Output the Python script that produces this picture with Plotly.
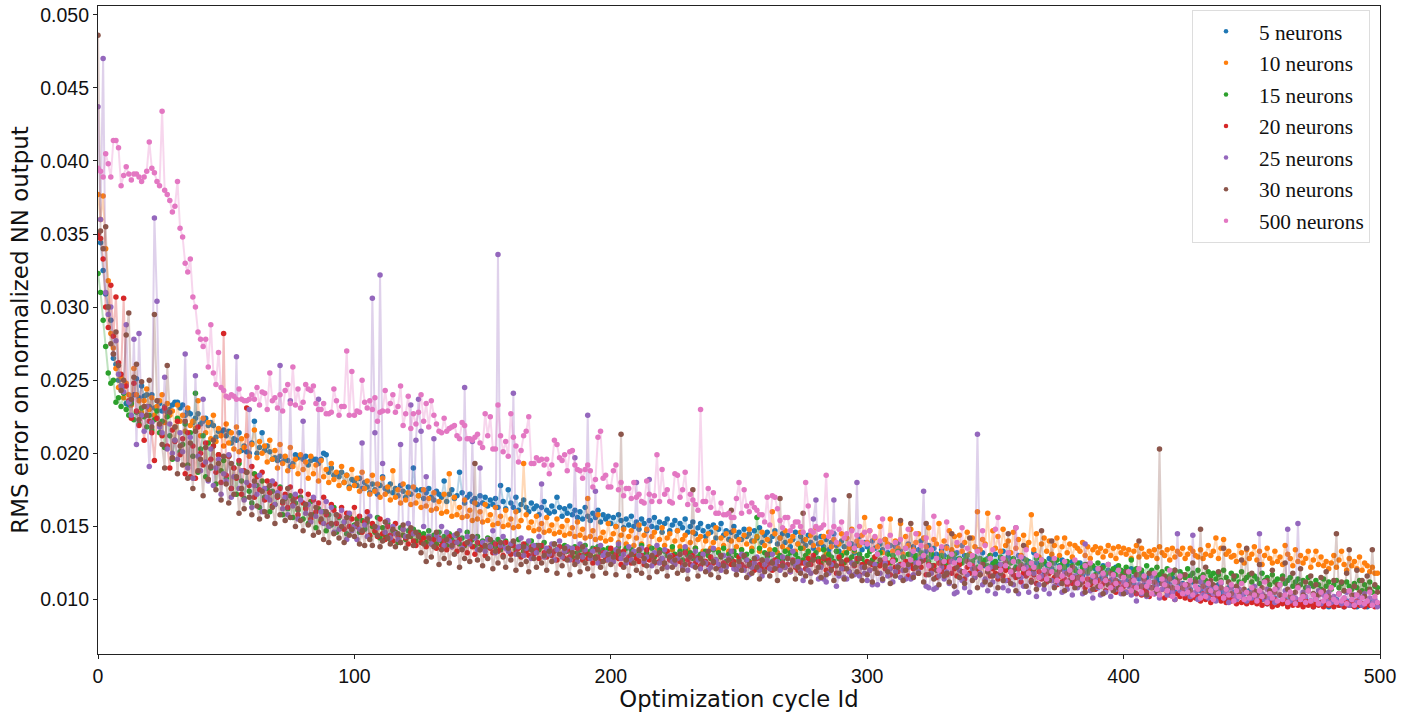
import plotly.graph_objects as go

# RMS values, in units of 1e-4; 25 values per row
n5 = [350,344,325,309,300,291,265,261,250,246,246,234,233,236,240,251,238,246,239,240,232,240,231,230,234,
229,232,228,230,233,235,235,231,233,226,229,227,221,224,227,220,222,224,219,221,219,211,215,214,216,
212,215,207,210,209,214,202,205,201,200,207,222,200,204,214,202,205,201,196,197,195,198,194,196,195,
191,193,199,197,198,196,198,192,195,196,196,193,196,200,199,187,190,185,186,184,187,180,185,177,182,
181,178,183,176,180,177,173,179,175,172,178,184,176,174,179,173,176,171,178,174,170,177,172,190,175,
171,175,169,173,176,170,168,174,172,170,181,167,172,175,169,171,187,173,166,170,172,167,169,165,171,
166,170,164,168,165,169,163,178,167,162,175,166,163,170,161,165,168,163,160,166,162,164,158,163,167,
161,159,164,160,170,163,157,162,159,164,158,161,156,160,155,163,157,154,159,156,161,153,158,155,157,
152,156,150,158,154,149,155,151,157,150,153,148,155,152,147,154,150,156,149,153,146,152,155,147,151,
154,147,152,149,155,146,150,153,145,149,152,147,143,150,146,151,142,148,152,144,147,141,146,150,143,
146,141,148,143,145,140,147,142,149,139,144,146,140,143,147,138,142,145,139,144,136,141,146,138,143,
140,137,144,139,135,142,138,143,136,141,134,139,145,137,133,140,136,142,135,138,132,137,143,134,139,
136,133,140,135,131,138,134,141,132,137,130,136,139,133,129,135,138,131,136,128,134,140,130,133,137,
129,135,131,127,134,130,136,126,133,128,132,125,137,130,127,131,124,129,134,126,132,123,128,130,125,
131,124,128,133,122,129,126,127,121,130,124,128,123,126,120,132,125,122,127,119,124,128,121,125,118,
123,127,120,124,117,126,121,119,125,116,122,118,124,115,121,119,114,123,117,120,113,118,122,112,116,
119,113,117,121,111,116,114,118,110,115,112,117,109,114,111,116,108,113,110,115,107,112,109,111,105,
110,107,112,104,108,106,111,103,109,105,107,102,110,104,106,101,108,103,105,100,107,102,104,99,106,
101,103,98,105,100,102,97,104,99,101,97,103,98,100,96,102,98,100,97,99,96,101,97,99,95,
100,97,98,96,99,95,98,97,100,96,98,95,99,97,96,98,95,100,96,97,95,99,96,98,96]

n10 = [377,360,376,340,318,282,272,258,245,252,238,248,240,233,258,240,236,228,236,244,230,238,226,232,236,
240,221,234,226,229,218,233,222,226,215,231,219,222,217,236,212,224,214,221,210,226,208,217,212,205,
220,207,214,203,218,201,210,204,212,198,206,216,197,208,200,205,194,209,196,202,190,206,193,198,188,
204,191,196,186,199,189,194,183,198,186,192,181,195,184,189,180,193,182,187,178,191,180,185,176,189,
178,183,174,187,176,181,172,185,174,179,170,183,172,177,168,188,170,175,166,179,168,173,165,177,166,
171,163,175,164,169,161,173,162,167,159,172,160,186,157,170,158,163,156,168,157,161,154,166,155,160,
153,165,154,158,151,163,152,157,150,161,151,155,149,160,150,154,193,158,149,153,147,157,148,152,146,
156,147,151,145,155,146,150,144,154,145,149,143,153,144,148,142,169,143,147,141,158,142,146,140,152,
141,145,150,139,144,148,138,143,147,137,142,151,138,144,148,136,143,146,135,141,149,137,142,145,134,
140,147,136,141,144,134,139,146,135,141,143,133,140,145,135,139,149,134,142,137,145,133,140,147,136,
141,134,144,138,148,135,140,143,133,146,137,141,134,160,145,132,142,136,147,134,140,143,133,138,146,
135,141,132,144,137,149,134,139,143,131,146,136,141,133,138,145,132,142,135,148,133,140,137,144,156,
139,147,134,142,136,150,132,141,138,155,133,140,135,152,131,143,137,148,134,139,145,130,142,136,149,
133,141,138,152,132,140,135,147,134,143,137,144,133,139,146,131,142,136,160,134,141,138,159,130,147,
135,143,133,148,137,140,132,146,135,141,130,144,136,139,158,134,145,129,138,142,133,140,131,137,142,
130,136,142,132,138,129,137,135,133,139,130,136,128,134,136,132,135,129,133,137,130,135,128,136,132,
135,131,134,128,133,137,129,135,131,129,133,130,134,128,136,132,130,134,127,135,129,133,131,135,128,
131,135,133,130,129,134,128,131,137,130,133,142,128,135,141,131,133,129,130,126,137,132,125,134,128,
131,136,127,133,124,130,135,128,125,133,126,129,124,137,131,128,123,134,126,130,125,128,133,122,127,
133,124,129,123,126,121,125,130,122,127,133,124,120,128,123,126,121,129,120,125,123,119,122,118,118]

n15 = [323,310,291,273,255,248,250,235,238,232,241,230,226,234,223,228,220,231,225,218,226,216,223,229,214,
222,204,225,212,196,209,224,201,206,220,192,214,198,241,187,203,212,184,207,190,205,179,199,188,195,
183,198,176,190,172,193,181,169,187,174,166,186,178,163,181,170,176,160,174,165,171,177,158,169,162,
171,156,166,161,170,155,163,152,167,158,149,162,154,160,147,158,151,163,146,156,149,153,145,158,148,
151,155,146,154,148,153,143,150,146,156,142,149,144,152,141,147,146,139,149,144,141,147,143,148,140,
146,142,145,139,147,141,144,138,146,140,143,137,145,141,139,144,138,142,137,146,139,141,136,143,138,
140,135,142,137,139,136,141,134,138,140,135,137,139,134,141,136,133,138,135,140,132,137,134,136,139,
133,135,131,138,134,136,130,137,133,135,129,136,132,134,130,137,131,133,135,129,136,132,134,128,135,
131,133,129,136,130,132,135,128,134,131,129,133,137,130,132,128,135,129,131,134,127,133,130,128,136,
131,129,133,127,134,130,132,128,135,129,131,126,133,130,128,134,127,132,129,135,126,131,128,133,130,
127,134,129,131,126,133,128,156,135,127,132,129,131,126,134,128,130,127,133,129,132,125,131,128,135,
127,130,133,126,129,132,128,125,134,127,131,129,126,133,128,130,125,132,127,129,134,126,131,128,125,
130,133,127,129,124,132,126,128,131,125,130,127,133,124,129,126,131,125,128,130,124,132,127,129,126,
131,123,128,125,130,127,124,129,126,131,123,128,125,127,130,124,126,129,122,128,125,127,123,130,124,
126,122,129,124,127,121,125,128,122,126,124,120,127,123,125,121,128,122,124,126,120,123,125,119,127,
121,124,122,126,119,123,120,125,118,122,124,119,121,123,117,125,120,122,118,124,119,121,117,123,120,
118,122,116,127,119,121,117,120,115,123,118,120,116,122,117,119,115,121,116,118,120,114,119,117,115,
121,116,118,114,120,115,117,113,119,116,118,114,117,113,120,115,112,118,114,116,112,119,113,115,117,
112,116,114,111,118,113,115,110,117,112,114,110,116,111,113,115,109,112,114,110,113,108,115,111,109,
113,110,107,114,109,112,107,110,113,108,111,106,112,109,107,111,108,113,106,110,107,112,105,109,108]

n20 = [350,347,333,300,286,315,280,307,262,254,306,246,236,224,248,229,219,226,209,232,222,214,195,224,219,
212,231,205,190,216,208,222,199,210,186,214,184,205,183,218,200,192,207,182,196,205,187,199,180,282,
185,198,176,190,183,195,172,188,231,178,191,170,184,175,187,168,181,173,164,179,170,176,166,172,163,
177,165,170,158,174,166,162,172,155,168,160,166,153,170,158,151,165,161,152,157,163,148,159,150,155,
163,150,157,146,153,160,144,152,147,143,155,145,141,150,144,140,152,143,139,148,142,138,146,140,137,
144,139,142,136,143,138,141,135,142,137,140,134,143,136,139,133,141,135,138,132,140,136,131,139,134,
137,130,141,135,132,138,133,136,130,139,134,131,137,132,135,129,138,133,130,136,131,134,128,137,132,
129,135,130,133,127,136,131,128,134,129,132,126,135,130,127,133,128,131,125,134,129,126,132,127,130,
135,126,131,128,124,133,127,129,125,132,128,126,130,124,134,127,129,125,131,126,128,124,133,127,130,
125,129,126,123,132,127,124,130,125,128,123,131,126,124,129,125,127,122,130,125,123,128,124,126,121,
129,124,122,127,123,125,120,128,124,121,126,122,125,120,127,123,121,125,122,124,119,127,122,120,125,
125,121,128,124,130,119,126,123,128,120,127,122,125,118,129,124,121,127,119,125,123,128,117,124,122,
126,120,124,129,118,123,126,121,125,117,127,122,119,124,120,126,116,123,121,125,118,122,127,117,124,
120,123,115,125,119,122,117,126,118,121,116,124,119,114,122,118,123,115,120,117,124,113,119,116,121,
118,114,122,116,120,113,119,117,115,121,112,118,116,120,113,117,111,119,114,116,112,118,113,115,110,
116,112,114,110,117,111,113,109,115,112,108,114,110,112,107,113,109,111,106,112,108,110,105,111,107,
109,105,110,106,108,104,109,103,107,105,102,108,104,106,103,107,101,105,103,106,100,104,102,105,101,
103,100,104,101,102,99,104,100,102,98,103,100,101,99,102,98,101,99,100,97,102,98,100,97,101,
98,100,97,99,96,101,97,98,95,100,96,98,97,99,95,98,96,100,96,97,95,99,96,98,95,
97,96,98,95,97,96,99,95,98,96,97,95,98,96,97,95,99,96,97,95,98,96,97,95,96]

n25 = [437,360,470,310,295,300,268,277,254,246,242,288,235,226,278,206,282,226,215,232,191,221,361,304,218,
214,252,203,220,200,209,196,214,201,268,190,211,183,253,198,188,237,194,181,203,178,190,196,172,186,
181,199,170,184,266,176,188,168,180,230,163,178,172,185,160,176,170,168,181,165,173,260,162,170,158,
236,164,172,155,168,222,159,165,153,170,157,237,160,152,167,150,163,146,158,148,161,153,141,159,147,
150,141,148,207,151,143,157,306,214,149,322,193,146,154,142,150,145,141,206,148,143,152,233,145,209,
237,215,150,184,143,138,210,144,141,150,137,146,140,136,144,139,147,135,245,143,138,208,142,134,190,
139,133,141,136,147,132,336,137,143,135,133,138,241,131,136,142,130,135,140,128,137,132,143,179,129,
135,131,138,127,134,140,129,133,136,127,135,197,126,138,129,134,226,128,133,174,125,137,130,132,127,
129,126,134,138,128,131,125,136,127,133,180,130,135,126,129,182,123,132,137,125,128,134,122,130,126,
124,128,131,122,136,120,129,123,133,127,121,131,125,120,122,135,127,124,120,130,122,128,133,121,120,
123,131,120,127,117,122,125,129,120,116,124,127,121,131,123,126,120,129,122,128,119,133,123,126,120,
113,125,120,118,155,168,114,122,114,112,118,124,168,109,116,121,115,114,119,125,117,180,116,122,118,
113,120,110,124,110,118,113,125,116,121,112,119,123,115,120,114,122,114,117,125,119,128,174,109,108,
118,107,108,116,122,114,119,111,126,104,105,120,113,108,117,105,121,115,213,118,110,114,106,122,112,
104,116,124,108,113,106,119,110,149,104,115,109,122,105,112,118,102,110,116,107,120,104,113,109,117,
111,105,118,107,113,103,116,108,112,104,138,110,106,101,114,108,103,117,105,111,102,115,107,109,104,
112,105,109,103,115,99,110,104,113,102,108,116,104,110,101,107,113,103,109,105,100,145,106,110,104,
108,102,144,105,100,112,103,107,101,109,104,99,106,111,101,105,98,108,103,100,107,102,105,99,104,
101,109,102,145,104,100,107,101,105,98,108,103,100,106,148,99,104,101,152,100,105,102,108,99,104,
101,106,97,103,100,105,98,102,99,104,97,101,105,96,100,103,98,102,96,104,99,101,97,100,95]

n30 = [486,352,340,355,300,275,268,283,260,243,250,281,296,237,252,261,223,249,232,226,250,218,295,236,220,
206,190,260,228,197,218,186,205,192,222,183,207,176,215,188,196,171,204,182,191,209,175,193,168,198,
179,166,193,172,184,159,176,162,187,170,158,181,164,155,174,160,157,178,163,152,171,158,167,154,176,
156,168,150,162,154,147,165,151,158,144,163,146,155,141,160,139,152,145,158,142,150,139,156,144,148,
143,152,138,147,137,155,141,137,150,144,136,140,153,142,138,148,136,145,139,151,135,143,149,137,146,
143,132,138,126,142,129,136,146,124,134,128,141,125,137,131,145,122,134,128,139,126,143,193,127,134,
123,137,128,141,121,133,125,139,129,122,135,127,140,120,131,124,136,126,119,134,128,122,137,125,130,
120,133,126,138,118,131,123,135,127,117,132,124,129,119,136,125,121,130,116,128,134,122,126,118,131,
124,129,117,133,213,122,127,116,131,125,120,134,118,128,123,115,130,126,119,132,121,125,116,129,122,
127,118,131,120,124,114,129,175,122,116,128,125,119,133,117,126,121,115,130,123,119,127,161,124,117,
126,120,130,115,124,118,128,122,114,127,119,131,116,125,121,113,169,123,117,128,120,126,114,122,118,
159,116,124,112,127,119,122,115,129,117,125,120,113,123,118,126,114,121,171,116,124,119,128,113,122,
117,125,112,121,118,127,114,123,119,111,126,116,122,154,113,120,124,152,115,122,118,126,112,152,117,
123,114,120,110,125,116,118,112,145,109,122,115,119,111,126,142,113,121,108,117,124,112,119,110,116,
122,108,118,113,125,145,111,120,106,116,123,137,109,118,112,121,107,115,147,110,119,113,140,108,117,
120,111,106,118,113,122,108,115,110,119,105,124,112,107,116,109,121,104,114,110,118,106,113,108,116,
104,119,110,113,106,117,140,109,114,103,118,108,112,105,203,111,116,109,114,108,120,112,115,108,117,
110,106,125,112,107,148,109,122,106,113,110,105,119,108,135,107,112,104,116,109,105,127,107,135,104,
118,106,103,124,108,102,113,106,120,105,110,103,114,125,107,102,118,105,109,121,103,112,106,116,104,
110,103,115,106,119,102,108,113,145,104,112,106,118,134,103,109,120,105,113,102,116,107,134,110,105]

n500 = [395,393,389,405,398,389,414,414,409,383,390,396,391,387,391,391,389,386,389,393,413,395,392,386,383,
434,380,377,373,365,369,386,354,348,330,324,333,307,300,283,278,273,278,259,288,255,247,269,245,243,
239,238,240,239,237,244,237,236,236,237,240,237,245,233,242,241,230,255,236,238,231,240,229,243,247,
234,259,233,244,231,235,247,244,243,246,234,230,230,234,227,227,228,244,236,226,232,232,270,226,256,
226,229,228,250,235,231,236,230,238,222,228,229,243,229,234,240,228,232,246,219,227,239,217,227,220,
228,240,222,234,218,236,226,220,215,214,224,215,217,218,219,212,210,221,219,210,210,209,211,213,207,
204,227,212,225,203,203,233,212,201,208,198,227,211,205,194,202,212,215,225,193,193,197,195,196,192,
196,186,192,209,206,197,195,199,188,201,202,192,189,188,183,189,192,188,177,182,211,215,183,185,177,
177,188,192,175,180,171,176,176,169,180,170,172,167,166,181,172,167,171,199,167,189,172,175,167,166,
186,185,170,175,187,165,172,168,165,161,230,167,167,176,163,173,159,159,166,158,158,159,156,156,169,
180,159,175,164,160,166,163,161,158,158,153,170,151,171,170,162,154,149,156,156,147,150,153,153,150,
146,180,164,147,146,150,148,149,151,185,143,146,150,139,148,153,142,145,138,147,135,144,150,139,146,
138,147,134,143,131,140,155,128,136,144,126,139,132,141,124,135,148,127,133,145,125,137,130,142,123,
134,157,128,120,136,126,153,122,131,125,139,127,149,119,135,124,130,118,133,122,147,137,121,128,134,
148,156,120,128,123,132,119,126,149,117,129,121,134,118,125,122,130,115,127,120,114,124,119,128,113,
122,116,126,112,120,115,127,111,119,114,123,110,125,116,112,121,109,118,113,124,108,117,111,120,107,
115,110,119,106,113,108,121,105,116,109,112,104,118,107,103,114,110,106,120,102,112,108,116,104,110,
105,113,103,109,107,101,115,102,111,106,100,108,104,112,101,107,103,110,99,106,102,111,100,105,101,
108,103,99,106,102,112,98,104,101,107,99,110,100,103,98,105,101,97,108,100,102,98,106,99,103,
100,97,105,99,102,97,108,100,98,104,99,101,97,106,100,96,103,98,101,97,99,105,96,102,98]

names = ["5 neurons","10 neurons","15 neurons","20 neurons","25 neurons","30 neurons","500 neurons"]
colors = ["#1f77b4","#ff7f0e","#2ca02c","#d62728","#9467bd","#8c564b","#e377c2"]
series = [n5,n10,n15,n20,n25,n30,n500]
SCALE = 1e-4

def rgba(h,a):
    return f"rgba({int(h[1:3],16)},{int(h[3:5],16)},{int(h[5:7],16)},{a})"

fig = go.Figure()
for name,col,vals in zip(names,colors,series):
    assert len(vals)==500, (name,len(vals))
    ys = [v*SCALE for v in vals]
    xs = list(range(len(ys)))
    fig.add_trace(go.Scatter(x=xs,y=ys,mode="lines",line=dict(color=rgba(col,0.3),width=2),
                             legendgroup=name,showlegend=False,hoverinfo="skip"))
    fig.add_trace(go.Scatter(x=xs,y=ys,mode="markers",name=name,legendgroup=name,showlegend=False,
                             marker=dict(color=col,size=5.5,line=dict(width=0))))
    fig.add_trace(go.Scatter(x=[None],y=[None],mode="markers",name=name,legendgroup=name,
                             marker=dict(color=col,size=4.5,line=dict(width=0))))

axis = dict(showline=True,linecolor="#222",linewidth=1.2,mirror=True,ticks="outside",ticklen=4,
            tickcolor="#222",showgrid=False,zeroline=False,
            tickfont=dict(family="Liberation Sans",size=19.5,color="#111"))
fig.update_layout(
    width=1420,height=713,margin=dict(l=98,r=40,t=4,b=59),paper_bgcolor="white",plot_bgcolor="white",
    xaxis=dict(axis,range=[0,500],tickvals=[0,100,200,300,400,500],
               title=dict(text="Optimization cycle Id",font=dict(family="DejaVu Sans",size=22.7,color="#111"),standoff=2)),
    yaxis=dict(axis,range=[0.00627,0.0506],tickvals=[0.010,0.015,0.020,0.025,0.030,0.035,0.040,0.045,0.050],
               tickformat=".3f",
               title=dict(text="RMS error on normalized NN output",font=dict(family="DejaVu Sans",size=22.9,color="#111"),standoff=5)),
    legend=dict(x=0.9922,xanchor="right",y=0.994,yanchor="top",font=dict(family="Liberation Serif",size=21.3,color="#111"),
                bgcolor="white",bordercolor="#ddd",borderwidth=1,itemwidth=56,traceorder="grouped",tracegroupgap=0.9,
                entrywidth=120,entrywidthmode="pixels"),
)
fig.write_html("out.html",config={"displayModeBar":False},post_script="document.body.style.margin='0';")
